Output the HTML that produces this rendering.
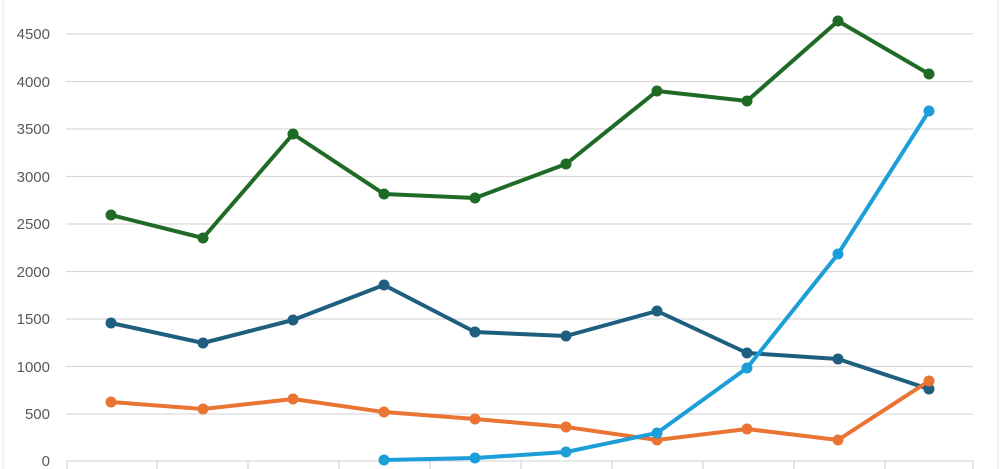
<!DOCTYPE html>
<html><head><meta charset="utf-8"><style>
html,body{margin:0;padding:0;background:#fff;}
svg{display:block;}
text{font-family:"Liberation Sans",sans-serif;font-size:15px;fill:#595959;}
</style></head><body>
<svg width="1000" height="469" viewBox="0 0 1000 469">
<line x1="3" y1="0" x2="3" y2="469" stroke="#e6e6e6" stroke-width="1"/>
<line x1="998" y1="0" x2="998" y2="469" stroke="#e6e6e6" stroke-width="1"/>
<g stroke="#d9d9d9" stroke-width="1.3">
<line x1="66" y1="34" x2="973" y2="34"/>
<line x1="66" y1="81.5" x2="973" y2="81.5"/>
<line x1="66" y1="129" x2="973" y2="129"/>
<line x1="66" y1="176.5" x2="973" y2="176.5"/>
<line x1="66" y1="224" x2="973" y2="224"/>
<line x1="66" y1="271.5" x2="973" y2="271.5"/>
<line x1="66" y1="319" x2="973" y2="319"/>
<line x1="66" y1="366.5" x2="973" y2="366.5"/>
<line x1="66" y1="414" x2="973" y2="414"/>
<line x1="66" y1="461" x2="973" y2="461"/>
<line x1="67" y1="461" x2="67" y2="469"/>
<line x1="157" y1="461" x2="157" y2="469"/>
<line x1="248" y1="461" x2="248" y2="469"/>
<line x1="339" y1="461" x2="339" y2="469"/>
<line x1="430" y1="461" x2="430" y2="469"/>
<line x1="521" y1="461" x2="521" y2="469"/>
<line x1="612" y1="461" x2="612" y2="469"/>
<line x1="703" y1="461" x2="703" y2="469"/>
<line x1="794" y1="461" x2="794" y2="469"/>
<line x1="885" y1="461" x2="885" y2="469"/>
<line x1="973" y1="461" x2="973" y2="469"/>
</g>
<g text-anchor="end">
<text x="50" y="39">4500</text>
<text x="50" y="87">4000</text>
<text x="50" y="134">3500</text>
<text x="50" y="182">3000</text>
<text x="50" y="229">2500</text>
<text x="50" y="277">2000</text>
<text x="50" y="324">1500</text>
<text x="50" y="372">1000</text>
<text x="50" y="419">500</text>
<text x="50" y="466">0</text>
</g>
<g fill="none" stroke-width="4" stroke-linejoin="round">
<polyline stroke="#1f6b25" points="111,215 203,238 293,134 384,194 475,198 566,164 657,91 747,101 838,21 929,74"/>
<polyline stroke="#1e5e7e" points="111,323 203,343 293,320 384,285 475,332 566,336 657,311 747,353 838,359 929,389"/>
<polyline stroke="#ea7434" points="111,402 203,409 293,399 384,412 475,419 566,427 657,440 747,429 838,440 929,381"/>
<polyline stroke="#1c9fd8" points="384,460 475,458 566,452 657,433 747,368 838,254 929,111"/>
</g>
<g fill="#1f6b25"><circle cx="111" cy="215" r="5.5"/><circle cx="203" cy="238" r="5.5"/><circle cx="293" cy="134" r="5.5"/><circle cx="384" cy="194" r="5.5"/><circle cx="475" cy="198" r="5.5"/><circle cx="566" cy="164" r="5.5"/><circle cx="657" cy="91" r="5.5"/><circle cx="747" cy="101" r="5.5"/><circle cx="838" cy="21" r="5.5"/><circle cx="929" cy="74" r="5.5"/></g>
<g fill="#1e5e7e"><circle cx="111" cy="323" r="5.5"/><circle cx="203" cy="343" r="5.5"/><circle cx="293" cy="320" r="5.5"/><circle cx="384" cy="285" r="5.5"/><circle cx="475" cy="332" r="5.5"/><circle cx="566" cy="336" r="5.5"/><circle cx="657" cy="311" r="5.5"/><circle cx="747" cy="353" r="5.5"/><circle cx="838" cy="359" r="5.5"/><circle cx="929" cy="389" r="5.5"/></g>
<g fill="#ea7434"><circle cx="111" cy="402" r="5.5"/><circle cx="203" cy="409" r="5.5"/><circle cx="293" cy="399" r="5.5"/><circle cx="384" cy="412" r="5.5"/><circle cx="475" cy="419" r="5.5"/><circle cx="566" cy="427" r="5.5"/><circle cx="657" cy="440" r="5.5"/><circle cx="747" cy="429" r="5.5"/><circle cx="838" cy="440" r="5.5"/><circle cx="929" cy="381" r="5.5"/></g>
<g fill="#1c9fd8"><circle cx="384" cy="460" r="5.5"/><circle cx="475" cy="458" r="5.5"/><circle cx="566" cy="452" r="5.5"/><circle cx="657" cy="433" r="5.5"/><circle cx="747" cy="368" r="5.5"/><circle cx="838" cy="254" r="5.5"/><circle cx="929" cy="111" r="5.5"/></g>
</svg>
</body></html>
